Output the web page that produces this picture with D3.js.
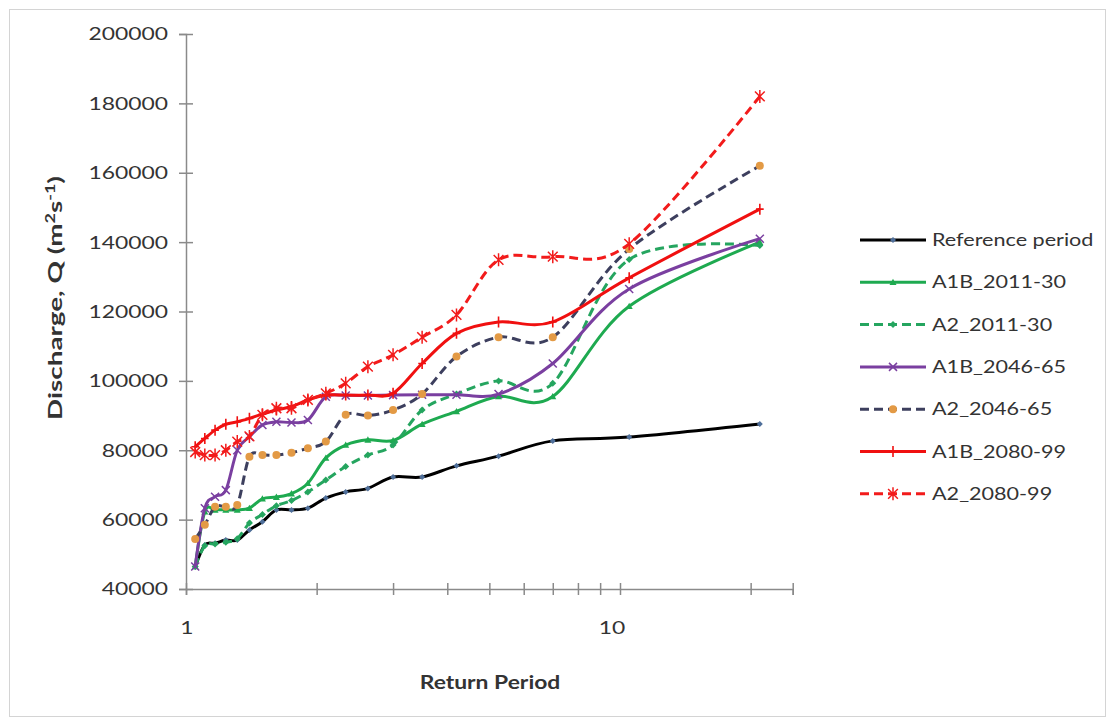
<!DOCTYPE html>
<html>
<head>
<meta charset="utf-8">
<script src="https://cdn.jsdelivr.net/npm/d3@7"></script>
<style>
  html, body { margin: 0; padding: 0; background: #fff; }
  svg { display: block; }
  text { font-family: Lato, "Open Sans", sans-serif; fill: #333; }
</style>
</head>
<body>
<svg id="chart" width="1111" height="725"></svg>
<script>
// Return periods (years) of the ranked annual maxima
const returnPeriods = [1.05, 1.105, 1.1667, 1.2353, 1.3125, 1.4, 1.5, 1.6154, 1.75, 1.9091,
                       2.1, 2.3333, 2.625, 3, 3.5, 4.2, 5.25, 7, 10.5, 21];

// Discharge for each return period, per scenario
const referencePeriod = [46400, 52700, 53200, 54100, 54100, 57000, 59400, 62800, 62800, 63300,
                         66200, 68000, 69000, 72300, 72300, 75500, 78300, 82700, 83800, 87600];
const a1b_2011_30 = [46500, 62300, 62800, 62800, 62800, 63300, 66000, 66500, 67500, 70500,
                     77800, 81500, 83000, 82800, 87500, 91200, 95500, 95500, 121500, 140000];
const a2_2011_30 = [46500, 52500, 53000, 53500, 54500, 59000, 61500, 64000, 65500, 68000,
                    71400, 75300, 78600, 81500, 91600, 96200, 100000, 99300, 135000, 139000];
const a1b_2046_65 = [46500, 63300, 66600, 68500, 80000, 83900, 87300, 88200, 88000, 88700,
                     95400, 95800, 95800, 95900, 96000, 96000, 96200, 105000, 126500, 141000];
const a2_2046_65 = [54400, 58500, 63700, 63700, 64200, 78100, 78600, 78600, 79300, 80600,
                    82500, 90200, 90000, 91600, 96200, 107000, 112600, 112600, 138000, 162000];
const a1b_2080_99 = [81000, 83400, 85800, 87500, 88200, 89200, 90400, 91600, 92600, 94500,
                     95900, 95900, 95900, 96400, 105000, 113700, 117000, 117000, 129700, 149500];
const a2_2080_99 = [79500, 78600, 78600, 80000, 82500, 84000, 90200, 92100, 92100, 94500,
                    96400, 99300, 104100, 107500, 112600, 119000, 134900, 135800, 139500, 182000];

const seriesNames = ["Reference period", "A1B_2011-30", "A2_2011-30", "A1B_2046-65",
                     "A2_2046-65", "A1B_2080-99", "A2_2080-99"];
const seriesValues = [referencePeriod, a1b_2011_30, a2_2011_30, a1b_2046_65,
                      a2_2046_65, a1b_2080_99, a2_2080_99];

const yTickValues = [40000, 60000, 80000, 100000, 120000, 140000, 160000, 180000, 200000];
const xTickValues = [1, 2, 3, 4, 5, 6, 7, 8, 9, 10, 20, 25];
const xLabelValues = [1, 10];

// Visual style per series: line colour, dash, marker type and marker colour
const styles = [
  { color: "#000000", dash: null,  marker: "diamond",  mcolor: "#4f6f9a", msize: 6 },
  { color: "#1eaa50", dash: null,  marker: "triangle", mcolor: "#1eaa50", msize: 7 },
  { color: "#25a55f", dash: "9,5", marker: "diamond",  mcolor: "#25a55f", msize: 7 },
  { color: "#7a3fa0", dash: null,  marker: "cross",    mcolor: "#7a3fa0", msize: 8 },
  { color: "#3d3f5e", dash: "9,5", marker: "circle",   mcolor: "#e39a45", msize: 8 },
  { color: "#f01010", dash: null,  marker: "plus",     mcolor: "#f01010", msize: 11 },
  { color: "#f21b1b", dash: "9,5", marker: "asterisk", mcolor: "#f21b1b", msize: 13 }
];

const svg = d3.select("#chart");
const SX = 1.27; // horizontal text stretch

// Outer frame
svg.append("rect").attr("x", 9.5).attr("y", 9.5).attr("width", 1096).attr("height", 707)
  .attr("fill", "#fff").attr("stroke", "#d4d4d4").attr("stroke-width", 1);

const x = d3.scaleLog().domain([1, 25]).range([186, 792.7]);
const y = d3.scaleLinear().domain([40000, 200000]).range([589, 34]);

// Axes
const axisColor = "#8a8a8a";
const yAxis = svg.append("g").attr("transform", `translate(${x(1)},0)`)
  .call(d3.axisLeft(y).tickValues(yTickValues).tickSize(7).tickFormat(""));
const xAxis = svg.append("g").attr("transform", `translate(0,${y(40000)})`)
  .call(d3.axisBottom(x).tickValues(xTickValues).tickSize(6).tickFormat(""));
[yAxis, xAxis].forEach(g => {
  g.select(".domain").attr("stroke", axisColor).attr("stroke-width", 1.5);
  g.selectAll(".tick line").attr("stroke", axisColor).attr("stroke-width", 1.5);
});
// cross-style ticks
yAxis.selectAll(".tick line").attr("x1", 7);
xAxis.selectAll(".tick line").attr("y1", -6);

// Tick labels
svg.append("g").selectAll("text").data(yTickValues).join("text")
  .attr("transform", d => `translate(168,${y(d)}) scale(${SX},1)`)
  .attr("text-anchor", "end").attr("dy", "0.36em")
  .style("font-size", "18px")
  .text(d => d);
svg.append("g").selectAll("text").data(xLabelValues).join("text")
  .attr("transform", d => `translate(${x(d) - (d === 10 ? 8 : -1)},${y(40000) + 45}) scale(${SX},1)`)
  .attr("text-anchor", "middle")
  .style("font-size", "18px")
  .text(d => d);

// Axis titles
svg.append("text")
  .attr("transform", `translate(490,689) scale(${SX},1)`)
  .attr("text-anchor", "middle")
  .style("font-size", "18px").style("font-weight", "bold")
  .text("Return Period");

const yTitle = svg.append("text")
  .attr("transform", `translate(62,298) rotate(-90) scale(1,1.12)`)
  .attr("text-anchor", "middle")
  .attr("textLength", 244).attr("lengthAdjust", "spacingAndGlyphs")
  .style("font-size", "17px").style("font-weight", "bold");
yTitle.append("tspan").text("Discharge,  Q (m");
yTitle.append("tspan").attr("baseline-shift", "super").style("font-size", "11px").text("2");
yTitle.append("tspan").text("s");
yTitle.append("tspan").attr("baseline-shift", "super").style("font-size", "11px").text("-1");
yTitle.append("tspan").text(")");

// Marker drawing
function drawMarker(g, type, cx, cy, s, color) {
  const h = s / 2;
  if (type === "diamond") {
    g.append("path").attr("d", `M${cx},${cy - h}L${cx + h},${cy}L${cx},${cy + h}L${cx - h},${cy}Z`)
      .attr("fill", color);
  } else if (type === "triangle") {
    g.append("path").attr("d", `M${cx},${cy - h}L${cx + h},${cy + h * 0.8}L${cx - h},${cy + h * 0.8}Z`)
      .attr("fill", color);
  } else if (type === "circle") {
    g.append("circle").attr("cx", cx).attr("cy", cy).attr("r", h).attr("fill", color);
  } else if (type === "cross") {
    g.append("path").attr("d", `M${cx - h},${cy - h}L${cx + h},${cy + h}M${cx - h},${cy + h}L${cx + h},${cy - h}`)
      .attr("stroke", color).attr("stroke-width", 1.5).attr("fill", "none");
  } else if (type === "plus") {
    g.append("path").attr("d", `M${cx},${cy - h}L${cx},${cy + h}M${cx - h * 0.7},${cy}L${cx + h * 0.7},${cy}`)
      .attr("stroke", color).attr("stroke-width", 1.6).attr("fill", "none");
  } else if (type === "asterisk") {
    const d = h * 0.75;
    g.append("path").attr("d",
      `M${cx},${cy - h}L${cx},${cy + h}M${cx - d},${cy - d}L${cx + d},${cy + d}M${cx - d},${cy + d}L${cx + d},${cy - d}`)
      .attr("stroke", color).attr("stroke-width", 1.5).attr("fill", "none");
  }
}

// Series lines (smoothed) and markers
const line = d3.line()
  .x((d, i) => x(returnPeriods[i]))
  .y(d => y(d))
  .curve(d3.curveCardinal.tension(0));

seriesValues.forEach((vals, si) => {
  const st = styles[si];
  const g = svg.append("g");
  g.append("path").datum(vals).attr("d", line)
    .attr("fill", "none").attr("stroke", st.color).attr("stroke-width", 3)
    .attr("stroke-dasharray", st.dash);
  vals.forEach((v, i) => drawMarker(g, st.marker, x(returnPeriods[i]), y(v), st.msize, st.mcolor));
});

// Legend
const legendY0 = 240, legendStep = 42.3;
seriesNames.forEach((name, si) => {
  const st = styles[si];
  const ly = legendY0 + si * legendStep;
  const g = svg.append("g");
  g.append("line").attr("x1", 860).attr("x2", 926).attr("y1", ly).attr("y2", ly)
    .attr("stroke", st.color).attr("stroke-width", 3).attr("stroke-dasharray", st.dash);
  drawMarker(g, st.marker, 893, ly, st.msize, st.mcolor);
  g.append("text").attr("transform", `translate(932,${ly}) scale(${SX},1)`)
    .attr("dy", "0.36em").style("font-size", "17px").text(name);
});
</script>
</body>
</html>
